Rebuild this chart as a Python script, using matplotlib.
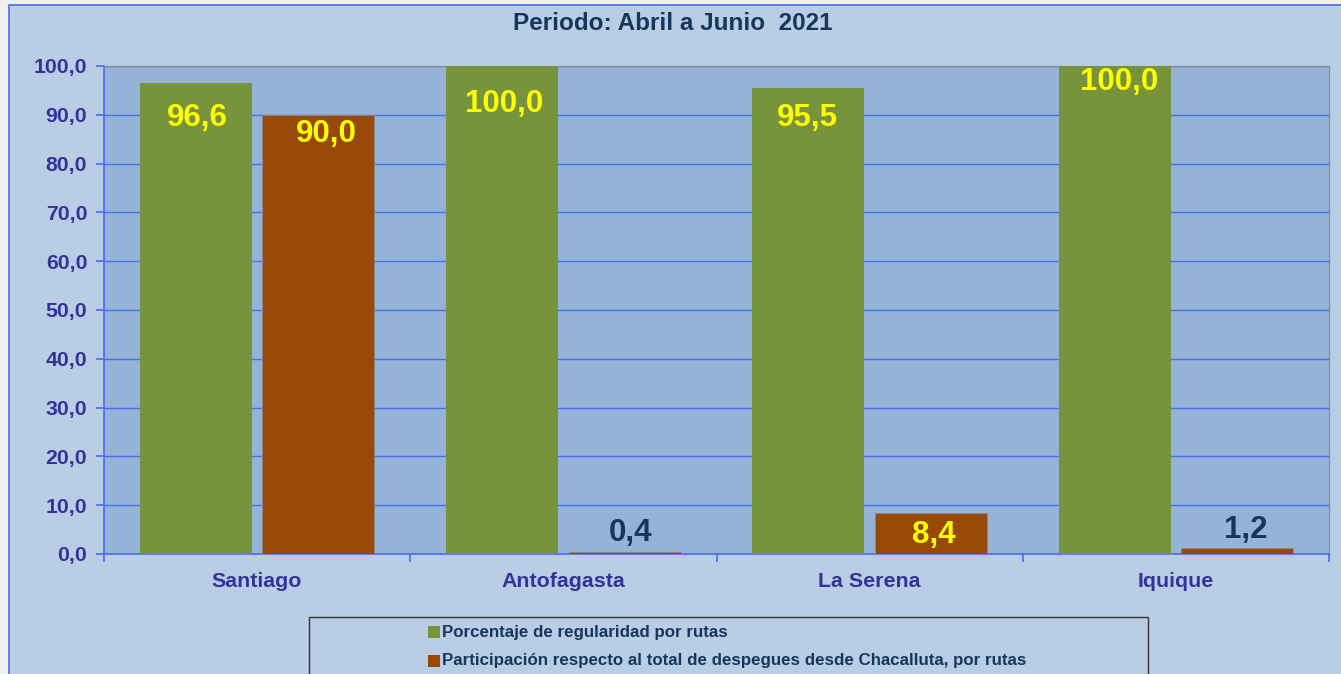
import numpy as np
import matplotlib
matplotlib.use("Agg")
import matplotlib.pyplot as plt
from matplotlib.patches import Rectangle

# data
ciudades = ["Santiago", "Antofagasta", "La Serena", "Iquique"]
regularidad = [96.6, 100.0, 95.5, 100.0]
participacion = [90.0, 0.4, 8.4, 1.2]
titulo = "Periodo: Abril a Junio  2021"
serie1 = "Porcentaje de regularidad por rutas"
serie2 = "Participación respecto al total de despegues desde Chacalluta, por rutas"

W, H = 1341, 674
plt.rcParams['font.family'] = ['Liberation Sans', 'DejaVu Sans']

fig = plt.figure(figsize=(W / 100, H / 100), dpi=100)
fig.patch.set_facecolor("#f0f0f0")
# chart area
fig.patches.append(Rectangle((9 / W, -0.1), 1.1, (H - 5) / H + 0.1, transform=fig.transFigure,
                             facecolor="#b9cde5", edgecolor="#4a6cf0", lw=1.2, zorder=0))

ax = fig.add_axes([104 / W, (H - 554) / H, (1329 - 104) / W, (554 - 66) / H])
ax.set_zorder(2)
ax.set_facecolor("#95b3d7")

x = np.arange(len(ciudades))
w = 0.365
b1 = ax.bar(x - 0.2, regularidad, w, color="#77933c", zorder=3)
b2 = ax.bar(x + 0.2, participacion, w, color="#984807", edgecolor="#8a8a8a", lw=0.6, zorder=3)

ax.set_xlim(-0.5, len(ciudades) - 0.5)
ax.set_ylim(0, 100)
ax.set_yticks(np.arange(0, 101, 10))
ax.set_yticklabels([f"{v:.1f}".replace(".", ",") for v in np.arange(0, 101, 10)])
ax.yaxis.grid(True, color="#4a6cf0", lw=1.0, zorder=1)
ax.set_axisbelow(True)

ax.set_xticks(np.arange(-0.5, len(ciudades), 1.0))
ax.set_xticklabels([])
ax.set_xticks(x, minor=True)
ax.set_xticklabels(ciudades, minor=True)
ax.tick_params(axis="x", which="minor", length=0, pad=13, labelsize=15.4, labelcolor="#333399")
ax.tick_params(axis="x", which="major", length=6, color="#4a6cf0", width=1.2)
ax.tick_params(axis="y", length=6, color="#4a6cf0", width=1.2, labelsize=15.3, labelcolor="#333399", pad=6)
for t in ax.get_yticklabels() + ax.get_xticklabels(minor=True):
    t.set_fontweight("bold")

ax.spines["left"].set_color("#4a6cf0")
ax.spines["bottom"].set_color("#4a6cf0")
ax.spines["left"].set_linewidth(1.2)
ax.spines["bottom"].set_linewidth(1.2)
ax.spines["top"].set_color("#888888")
ax.spines["right"].set_color("#888888")

# value labels (offsets in pixels relative to bar top)
off1 = [(1, -35), (2, -38), (-1, -30), (4, -16)]
off2 = [(8, -19), (6, 19), (3, -22), (9, 18)]
for bars, vals, offs in [(b1, regularidad, off1), (b2, participacion, off2)]:
    for r, v, (dx, dy) in zip(bars, vals, offs):
        col = "#ffff00" if dy < 0 else "#17365d"
        ax.annotate(f"{v:.1f}".replace(".", ","), (r.get_x() + r.get_width() / 2, min(v, 100)),
                    xytext=(dx, dy), textcoords="offset pixels", ha="center", va="center",
                    fontsize=22.5, fontweight="bold", color=col, zorder=5, annotation_clip=False)

fig.text(673 / W, 1 - 24 / H, titulo, ha="center", va="center", fontsize=17.5,
         fontweight="bold", color="#17365d")

# legend box
fig.patches.append(Rectangle((309 / W, -0.1), (1148 - 309) / W, (H - 617) / H + 0.1,
                             transform=fig.transFigure, facecolor="none",
                             edgecolor="#333333", lw=1.0, zorder=2))
for yy, col, lab in [(632, "#77933c", serie1), (661, "#984807", serie2)]:
    fig.patches.append(Rectangle((428 / W, 1 - (yy + 6) / H), 12 / W, 12 / H,
                                 transform=fig.transFigure, facecolor=col, edgecolor="none"))
    fig.text(442 / W, 1 - yy / H, lab, ha="left", va="center", fontsize=12.2,
             fontweight="bold", color="#17365d")

fig.savefig("out.png", dpi=100, facecolor=fig.get_facecolor())
